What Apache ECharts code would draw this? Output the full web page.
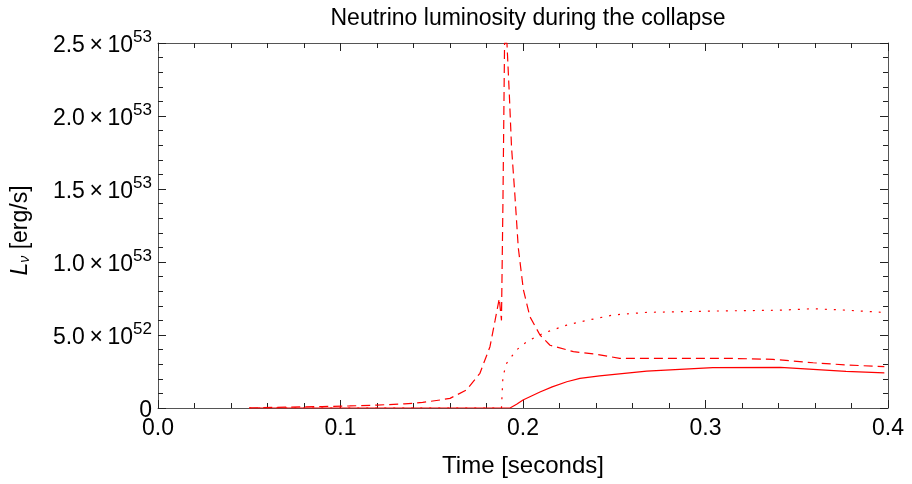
<!DOCTYPE html>
<html><head><meta charset="utf-8">
<script src="https://cdn.jsdelivr.net/npm/echarts@6/dist/echarts.min.js"></script>
<style>html,body{margin:0;padding:0;background:#fff}#c{width:912px;height:484px}</style>
</head><body><div id="c"></div>
<script>
var titleText = 'Neutrino luminosity during the collapse';
var xName = 'Time [seconds]';
var xTicks = [0.0, 0.1, 0.2, 0.3, 0.4];
var yTicks = [0, 5e52, 1e53, 1.5e53, 2e53, 2.5e53];

var tSolid = [0.05, 0.1, 0.15, 0.19, 0.1929, 0.1965, 0.2, 0.2093, 0.216, 0.224, 0.2312, 0.242, 0.2678, 0.304, 0.341, 0.359, 0.377, 0.398];
var vSolid = [0, 0, 0, 0, 0, 0.25e52, 0.55e52, 1.1e52, 1.45e52, 1.8e52, 2.03e52, 2.2e52, 2.53e52, 2.76e52, 2.78e52, 2.65e52, 2.51e52, 2.40e52];

var tDashed = [0.05, 0.07, 0.09, 0.105, 0.12, 0.135, 0.145, 0.1545, 0.16, 0.169, 0.1764, 0.1819, 0.1847, 0.187, 0.1882, 0.189, 0.1899, 0.1912, 0.1925, 0.1937, 0.1956, 0.1974, 0.2002, 0.2038, 0.2093, 0.2148, 0.2276, 0.2404, 0.253, 0.286, 0.313, 0.337, 0.359, 0.377, 0.398];
var vDashed = [0.0, 0.06e52, 0.1e52, 0.14e52, 0.2e52, 0.28e52, 0.38e52, 0.55e52, 0.66e52, 1.23e52, 2.38e52, 4.2e52, 6.0e52, 7.5e52, 6.0e52, 14e52, 25.0e52, 25.0e52, 21.5e52, 17.9e52, 14.5e52, 11.0e52, 8.1e52, 6.25e52, 5.0e52, 4.3e52, 3.86e52, 3.68e52, 3.4e52, 3.4e52, 3.4e52, 3.33e52, 3.1e52, 2.95e52, 2.83e52];

var tDotted = [0.05, 0.1, 0.15, 0.1882, 0.189, 0.191, 0.1964, 0.202, 0.2111, 0.224, 0.2312, 0.2404, 0.2494, 0.2678, 0.3043, 0.3408, 0.359, 0.3773, 0.397];
var vDotted = [0, 0, 0, 0, 2.15e52, 3.06e52, 3.97e52, 4.54e52, 5.12e52, 5.68e52, 5.9e52, 6.14e52, 6.37e52, 6.55e52, 6.64e52, 6.7e52, 6.8e52, 6.7e52, 6.55e52];

function pairs(t, v) { return t.map(function (x, i) { return [x, v[i]]; }); }

function yFmt(v) {
  if (v === 0) return '{a|0}';
  var e = Math.floor(Math.log10(v) + 1e-9);
  var m = v / Math.pow(10, e);
  return '{a|' + m.toFixed(1) + '\u2009\u00d7\u200910}{s|' + e + '}';
}

var frame = '#555';
var font = 'Liberation Sans, Arial, sans-serif';
var chart = echarts.init(document.getElementById('c'));
var xCommon = {
  type: 'value', min: xTicks[0], max: xTicks[xTicks.length - 1], interval: 0.1,
  axisLine: { show: true, onZero: false, lineStyle: { color: frame, width: 1 } },
  axisTick: { show: true, inside: true, length: 8, lineStyle: { color: '#222' } },
  minorTick: { show: true, splitNumber: 5, length: 5, lineStyle: { color: '#222' } },
  splitLine: { show: false }
};
var yCommon = {
  type: 'value', min: yTicks[0], max: yTicks[yTicks.length - 1], interval: 5e52,
  axisLine: { show: true, onZero: false, lineStyle: { color: frame, width: 1 } },
  axisTick: { show: true, inside: true, length: 8, lineStyle: { color: '#222' } },
  minorTick: { show: true, splitNumber: 5, length: 5, lineStyle: { color: '#222' } },
  splitLine: { show: false }
};
chart.setOption({
  animation: false,
  backgroundColor: '#fff',
  title: { text: titleText, left: 523, top: 2, textAlign: 'center',
    textStyle: { fontFamily: font, fontSize: 23, fontWeight: 'normal', color: '#000' } },
  grid: { left: 158, right: 24, top: 43, bottom: 76 },
  xAxis: [
    Object.assign({}, xCommon, {
      position: 'bottom', name: xName, nameLocation: 'middle', nameGap: 46,
      nameTextStyle: { fontFamily: font, fontSize: 24, color: '#000' },
      axisLabel: { show: true, margin: 9, fontFamily: font, fontSize: 23, color: '#000',
        formatter: function (v) { return v.toFixed(1); } }
    }),
    Object.assign({}, xCommon, { position: 'top', axisLabel: { show: false } })
  ],
  yAxis: [
    Object.assign({}, yCommon, {
      position: 'left',
      name: '{i|L}{sub|\u03bd} [erg/s]', nameLocation: 'middle', nameGap: 126, nameRotate: 90,
      nameTextStyle: { fontFamily: font, fontSize: 23, color: '#000', padding: [0, 10, 0, 0],
        rich: { i: { fontFamily: font, fontSize: 23, fontStyle: 'italic', color: '#000' },
                sub: { fontFamily: font, fontSize: 14, fontStyle: 'italic', color: '#000', verticalAlign: 'bottom', padding: [9, 0, 0, 0] } } },
      axisLabel: { show: true, margin: 6, fontFamily: font, fontSize: 23, color: '#000',
        formatter: yFmt,
        rich: { a: { fontFamily: font, fontSize: 23, color: '#000', lineHeight: 28, verticalAlign: 'bottom' },
                s: { fontFamily: font, fontSize: 17, color: '#000', lineHeight: 28, verticalAlign: 'top', padding: [0, 0, 12, 0] } } }
    }),
    Object.assign({}, yCommon, { position: 'right', axisLabel: { show: false } })
  ],
  series: [
    { type: 'line', data: pairs(tSolid, vSolid), showSymbol: false, symbol: 'none', clip: true,
      lineStyle: { color: '#ff0000', width: 1.2, type: 'solid' } },
    { type: 'line', data: pairs(tDashed, vDashed), showSymbol: false, symbol: 'none', clip: true,
      lineStyle: { color: '#ff0000', width: 1.2, type: [9, 5] } },
    { type: 'line', data: pairs(tDotted, vDotted), showSymbol: false, symbol: 'none', clip: true,
      lineStyle: { color: '#ff0000', width: 1.2, type: [2, 7] } }
  ]
});
</script></body></html>
